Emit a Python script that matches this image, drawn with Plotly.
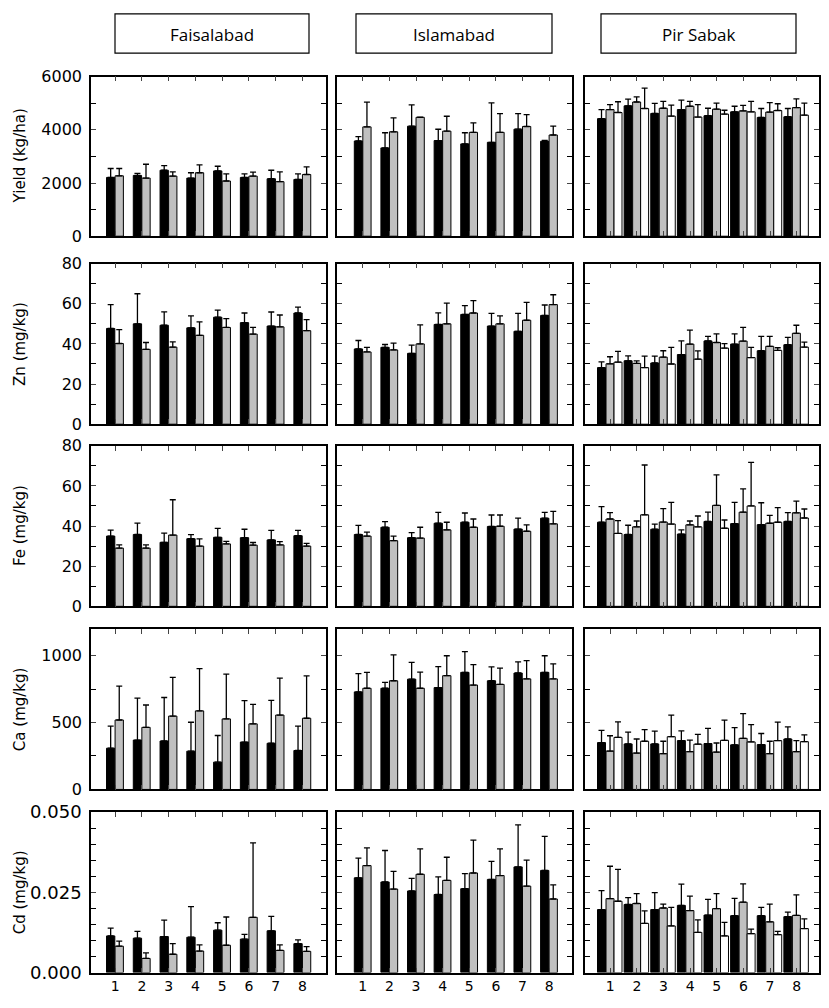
import plotly.graph_objects as go

W, H = 829, 1008

treatments = [1, 2, 3, 4, 5, 6, 7, 8]
sites = ["Faisalabad", "Islamabad", "Pir Sabak"]
variables = ["Yield (kg/ha)", "Zn (mg/kg)", "Fe (mg/kg)", "Ca (mg/kg)", "Cd (mg/kg)"]

# Faisalabad: means and upper end of error bar (black, grey)
fsd_yield_b = [2210, 2285, 2480, 2185, 2455, 2210, 2160, 2135]
fsd_yield_b_hi = [2545, 2360, 2655, 2385, 2630, 2345, 2480, 2345]
fsd_yield_g = [2270, 2185, 2260, 2385, 2075, 2260, 2050, 2320]
fsd_yield_g_hi = [2545, 2705, 2420, 2680, 2345, 2410, 2420, 2605]
fsd_zn_b = [47.7, 50.0, 49.3, 48.0, 53.3, 50.6, 48.9, 55.4]
fsd_zn_b_hi = [59.6, 65.0, 56.0, 54.0, 56.8, 55.4, 55.9, 58.3]
fsd_zn_g = [40.2, 37.3, 38.4, 44.3, 48.2, 44.9, 48.5, 46.6]
fsd_zn_g_hi = [47.1, 40.7, 41.0, 51.0, 52.6, 48.2, 54.4, 52.1]
fsd_fe_b = [35.0, 35.8, 31.9, 33.7, 34.4, 34.2, 33.1, 35.2]
fsd_fe_b_hi = [38.0, 41.5, 36.5, 35.7, 38.8, 38.4, 37.8, 37.8]
fsd_fe_g = [29.0, 29.0, 35.5, 30.0, 31.1, 30.5, 30.6, 30.0]
fsd_fe_g_hi = [30.6, 30.6, 53.1, 33.6, 32.4, 31.8, 32.2, 31.4]
fsd_ca_b = [308, 369, 362, 286, 204, 354, 345, 291]
fsd_ca_b_hi = [473, 682, 687, 502, 403, 663, 665, 473]
fsd_ca_g = [519, 464, 548, 587, 527, 490, 556, 532]
fsd_ca_g_hi = [772, 631, 837, 903, 862, 636, 832, 849]
fsd_cd_b = [0.0114, 0.0107, 0.0112, 0.0110, 0.0132, 0.0104, 0.0130, 0.0090]
fsd_cd_b_hi = [0.0138, 0.0128, 0.0163, 0.0205, 0.0155, 0.0119, 0.0175, 0.0102]
fsd_cd_g = [0.0082, 0.0044, 0.0057, 0.0067, 0.0085, 0.0172, 0.0069, 0.0066]
fsd_cd_g_hi = [0.0098, 0.0061, 0.0090, 0.0086, 0.0173, 0.0404, 0.0086, 0.0081]

# Islamabad (black, grey)
isb_yield_b = [3580, 3320, 4135, 3595, 3470, 3530, 4025, 3570]
isb_yield_b_hi = [3740, 3890, 4940, 4020, 3890, 5015, 4605, 3600]
isb_yield_g = [4110, 3925, 4470, 3950, 3905, 3905, 4125, 3805]
isb_yield_g_hi = [5040, 4445, 4480, 4510, 4260, 4605, 4570, 4135]
isb_zn_b = [37.5, 38.3, 35.3, 49.7, 54.7, 48.9, 46.3, 54.2]
isb_zn_b_hi = [41.7, 39.7, 39.4, 55.5, 59.1, 55.2, 55.2, 59.4]
isb_zn_g = [36.0, 37.0, 40.0, 50.0, 55.4, 50.0, 51.8, 59.6]
isb_zn_g_hi = [38.3, 40.4, 49.5, 60.3, 61.6, 54.0, 60.7, 64.5]
isb_fe_b = [35.8, 39.4, 34.2, 41.4, 41.9, 39.8, 38.5, 43.9]
isb_fe_b_hi = [40.3, 42.2, 36.7, 46.8, 46.5, 45.5, 43.9, 46.8]
isb_fe_g = [35.0, 32.7, 34.0, 38.1, 39.4, 39.9, 37.4, 41.1]
isb_fe_g_hi = [37.0, 35.0, 39.4, 41.9, 43.5, 45.5, 40.6, 47.3]
isb_ca_b = [729, 756, 824, 761, 875, 812, 870, 875]
isb_ca_b_hi = [865, 800, 950, 918, 1030, 916, 953, 999]
isb_ca_g = [756, 812, 756, 850, 780, 785, 826, 826]
isb_ca_g_hi = [875, 1006, 877, 999, 933, 906, 962, 938]
isb_cd_b = [0.0295, 0.0282, 0.0254, 0.0243, 0.0261, 0.0290, 0.0329, 0.0318]
isb_cd_b_hi = [0.0356, 0.0380, 0.0293, 0.0298, 0.0308, 0.0346, 0.0460, 0.0424]
isb_cd_g = [0.0333, 0.0260, 0.0306, 0.0287, 0.0310, 0.0302, 0.0269, 0.0229]
isb_cd_g_hi = [0.0388, 0.0315, 0.0385, 0.0359, 0.0412, 0.0385, 0.0350, 0.0273]

# Pir Sabak (black, grey, white)
psk_yield_b = [4420, 4900, 4615, 4760, 4530, 4675, 4465, 4490]
psk_yield_b_hi = [4760, 5155, 4995, 5115, 4810, 4885, 4800, 4800]
psk_yield_g = [4760, 5045, 4810, 4885, 4775, 4710, 4665, 4835]
psk_yield_g_hi = [4945, 5240, 5065, 5065, 5005, 4920, 5020, 5165]
psk_yield_w = [4650, 4800, 4515, 4480, 4590, 4675, 4725, 4550]
psk_yield_w_hi = [5055, 5570, 4930, 4945, 4735, 5065, 4980, 5005]
psk_zn_b = [28.2, 31.6, 30.5, 34.7, 41.5, 39.9, 36.6, 39.6]
psk_zn_b_hi = [31.1, 34.0, 33.9, 41.5, 43.8, 45.0, 43.8, 43.3]
psk_zn_g = [30.1, 30.3, 33.4, 39.9, 40.7, 41.4, 38.8, 45.3]
psk_zn_g_hi = [33.6, 31.6, 36.6, 46.9, 45.0, 48.2, 43.8, 49.3]
psk_zn_w = [30.9, 28.2, 30.0, 32.4, 37.9, 33.2, 36.8, 38.4]
psk_zn_w_hi = [36.3, 33.9, 38.3, 36.5, 40.1, 38.3, 38.1, 40.9]
psk_fe_b = [41.9, 35.8, 38.4, 36.0, 42.3, 41.2, 40.7, 42.3]
psk_fe_b_hi = [49.7, 40.4, 41.0, 38.1, 46.9, 51.8, 51.6, 46.7]
psk_fe_g = [43.5, 39.6, 42.0, 40.6, 50.3, 46.9, 41.4, 46.6]
psk_fe_g_hi = [46.7, 42.5, 48.7, 42.5, 65.5, 58.5, 45.3, 52.4]
psk_fe_w = [36.3, 45.6, 41.0, 39.6, 38.9, 50.0, 41.9, 44.0]
psk_fe_w_hi = [42.7, 70.4, 51.8, 45.0, 43.0, 71.7, 49.2, 48.5]
psk_ca_b = [350, 340, 340, 365, 343, 333, 335, 377]
psk_ca_b_hi = [442, 428, 435, 437, 457, 462, 418, 467]
psk_ca_g = [287, 272, 267, 282, 279, 382, 267, 282]
psk_ca_g_hi = [401, 377, 360, 369, 347, 566, 360, 365]
psk_ca_w = [389, 360, 394, 338, 367, 355, 365, 357]
psk_ca_w_hi = [505, 447, 556, 411, 518, 484, 503, 408]
psk_cd_b = [0.0196, 0.0212, 0.0196, 0.0209, 0.0179, 0.0177, 0.0177, 0.0174]
psk_cd_b_hi = [0.0255, 0.0233, 0.0249, 0.0275, 0.0228, 0.0231, 0.0203, 0.0188]
psk_cd_g = [0.0230, 0.0215, 0.0201, 0.0193, 0.0199, 0.0219, 0.0158, 0.0178]
psk_cd_g_hi = [0.0331, 0.0246, 0.0213, 0.0238, 0.0246, 0.0276, 0.0213, 0.0242]
psk_cd_w = [0.0222, 0.0153, 0.0145, 0.0125, 0.0114, 0.0121, 0.0118, 0.0137]
psk_cd_w_hi = [0.0321, 0.0192, 0.0203, 0.0164, 0.0156, 0.0135, 0.0128, 0.0167]

panels = {
    "Faisalabad": [
        [(fsd_yield_b, fsd_yield_b_hi), (fsd_yield_g, fsd_yield_g_hi)],
        [(fsd_zn_b, fsd_zn_b_hi), (fsd_zn_g, fsd_zn_g_hi)],
        [(fsd_fe_b, fsd_fe_b_hi), (fsd_fe_g, fsd_fe_g_hi)],
        [(fsd_ca_b, fsd_ca_b_hi), (fsd_ca_g, fsd_ca_g_hi)],
        [(fsd_cd_b, fsd_cd_b_hi), (fsd_cd_g, fsd_cd_g_hi)],
    ],
    "Islamabad": [
        [(isb_yield_b, isb_yield_b_hi), (isb_yield_g, isb_yield_g_hi)],
        [(isb_zn_b, isb_zn_b_hi), (isb_zn_g, isb_zn_g_hi)],
        [(isb_fe_b, isb_fe_b_hi), (isb_fe_g, isb_fe_g_hi)],
        [(isb_ca_b, isb_ca_b_hi), (isb_ca_g, isb_ca_g_hi)],
        [(isb_cd_b, isb_cd_b_hi), (isb_cd_g, isb_cd_g_hi)],
    ],
    "Pir Sabak": [
        [(psk_yield_b, psk_yield_b_hi), (psk_yield_g, psk_yield_g_hi), (psk_yield_w, psk_yield_w_hi)],
        [(psk_zn_b, psk_zn_b_hi), (psk_zn_g, psk_zn_g_hi), (psk_zn_w, psk_zn_w_hi)],
        [(psk_fe_b, psk_fe_b_hi), (psk_fe_g, psk_fe_g_hi), (psk_fe_w, psk_fe_w_hi)],
        [(psk_ca_b, psk_ca_b_hi), (psk_ca_g, psk_ca_g_hi), (psk_ca_w, psk_ca_w_hi)],
        [(psk_cd_b, psk_cd_b_hi), (psk_cd_g, psk_cd_g_hi), (psk_cd_w, psk_cd_w_hi)],
    ],
}

fills = ["black", "#c0c0c0", "white"]

# pixel layout of the panels
col_px = [(91, 326), (337, 572), (585, 819)]
row_px = [(67, 230), (258, 422), (444, 608), (631, 795), (818, 982)]
x_ranges = [[0.1, 8.88], [0.03, 8.86], [0.05, 8.84]]
y_ranges = [[0, 6000], [0, 80], [0, 80], [0, 1200], [0, 0.05]]
y_dticks = [2000, 20, 20, 500, 0.025]
y_minor = [1000, 10, 10, 250, 0.005]
y_fmt = ["", "", "", "", ".3f"]
y_font = [16, 16, 16, 16, 18]

fig = go.Figure()

for c, site in enumerate(sites):
    for r in range(5):
        idx = r * 3 + c + 1
        series = panels[site][r]
        if len(series) == 2:
            offsets, width = [-0.32, 0.0], 0.31
        else:
            offsets, width = [-0.48, -0.16, 0.14], 0.3
        for k, (vals, hi) in enumerate(series):
            err = [h - v for h, v in zip(hi, vals)]
            fig.add_trace(go.Bar(
                x=treatments, y=vals, width=width, offset=offsets[k],
                marker=dict(color=fills[k], line=dict(color="black", width=1)),
                error_y=dict(type="data", symmetric=False, array=err,
                             arrayminus=[0] * len(err), color="black",
                             thickness=1.3, width=3),
                xaxis=f"x{idx}", yaxis=f"y{idx}", showlegend=False,
            ))

        x0, x1 = col_px[c]
        y0, y1 = row_px[r]
        fig.layout[f"xaxis{idx}"] = dict(
            domain=[x0 / W, x1 / W], anchor=f"y{idx}", range=x_ranges[c],
            tickvals=treatments, ticks="inside", ticklen=5, tickwidth=1.3,
            showline=True, linecolor="black", linewidth=1.5, mirror="ticks",
            showgrid=False, zeroline=False, showticklabels=(r == 4),
            tickfont=dict(family="DejaVu Sans", size=14, color="black"),
        )
        fig.layout[f"yaxis{idx}"] = dict(
            domain=[1 - y1 / H, 1 - y0 / H], anchor=f"x{idx}", range=y_ranges[r],
            dtick=y_dticks[r], tick0=0, tickformat=y_fmt[r],
            ticks="inside", ticklen=5, tickwidth=1.3,
            minor=dict(dtick=y_minor[r], tick0=0, ticks="inside", ticklen=5,
                       tickwidth=1.3, tickcolor="black"),
            showline=True, linecolor="black", linewidth=1.5, mirror="ticks",
            showgrid=False, zeroline=False, showticklabels=(c == 0),
            ticklabelstandoff=4,
            tickfont=dict(family="DejaVu Sans", size=y_font[r], color="black"),
        )

# site header boxes
header_px = [(115, 309), (356, 552), (601, 796)]
for site, (hx0, hx1) in zip(sites, header_px):
    fig.add_shape(type="rect", xref="paper", yref="paper",
                  x0=hx0 / W, x1=hx1 / W, y0=1 - 43 / H, y1=1 - 3 / H,
                  line=dict(color="black", width=1.2), fillcolor="white")
    fig.add_annotation(text=site, xref="paper", yref="paper",
                       x=(hx0 + hx1) / 2 / W, y=1 - 24 / H, showarrow=False,
                       xanchor="center", yanchor="middle",
                       font=dict(family="Open Sans", size=17, color="black"))

# y axis titles
for r, name in enumerate(variables):
    y0, y1 = row_px[r]
    fig.add_annotation(text=name, xref="paper", yref="paper",
                       x=20 / W, y=1 - (y0 + y1) / 2 / H, textangle=-90,
                       showarrow=False, xanchor="center", yanchor="middle",
                       font=dict(family="DejaVu Sans", size=15, color="black"))

fig.update_layout(
    width=W, height=H, margin=dict(l=0, r=0, t=0, b=0),
    barmode="overlay", plot_bgcolor="white", paper_bgcolor="white",
)

fig.write_html("out.html", config={"displayModeBar": False},
               post_script="document.body.style.margin = '0';")
